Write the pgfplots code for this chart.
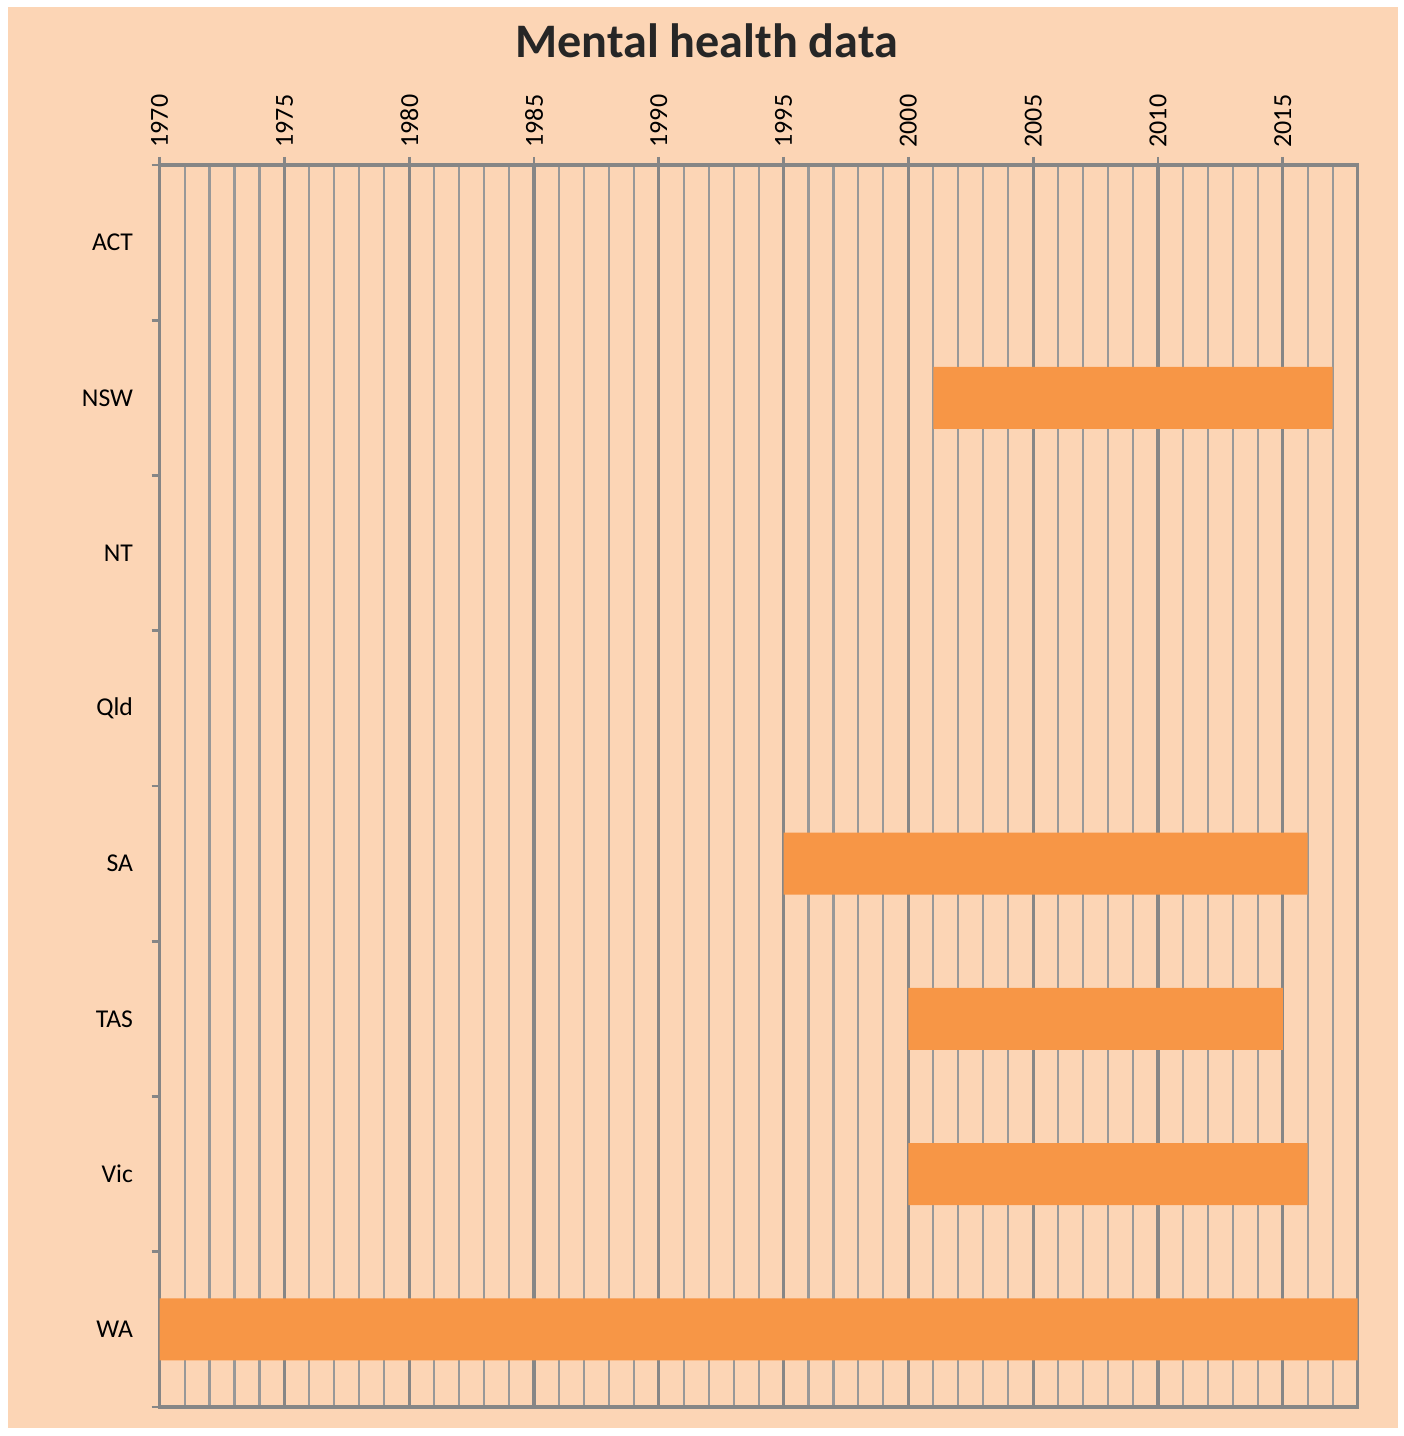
\documentclass[border=0pt]{standalone}
\usepackage{fontspec}
\setmainfont{Carlito}
\usepackage{pgfplots}
\pgfplotsset{compat=1.18}
\usepackage{pgfplotstable}
\definecolor{peach}{HTML}{FCD5B5}
\definecolor{barorange}{HTML}{F79646}
\definecolor{gridgray}{HTML}{868686}
\definecolor{minorgray}{HTML}{989898}

% state index, first year, years covered
\pgfplotstableread{
idx start span
0 0    0
1 2001 16
2 0    0
3 0    0
4 1995 21
5 2000 15
6 2000 16
7 1970 48
}\spans

\begin{document}
\begin{tikzpicture}
  % page: white edge, peach chart area
  \fill[white] (-1.59,-0.29) rectangle (12.44,14.07);
  \fill[peach] (-1.51,-0.21) rectangle (12.39,14.00);
  \begin{axis}[
    at={(0,0)}, anchor=south west,
    scale only axis,
    width=11.98cm, height=12.42cm,
    xbar stacked, bar width=0.62cm,
    xmin=1970, xmax=2018,
    ymin=-0.5, ymax=7.5,
    y dir=reverse,
    xtick={1970,1975,...,2015},
    xticklabels={1970,1975,1980,1985,1990,1995,2000,2005,2010,2015},
    minor xtick={1970,...,2018},
    ytick={0,...,7},
    yticklabels={ACT,NSW,NT,Qld,SA,TAS,Vic,WA},
    minor ytick={-0.5,0.5,...,7.5},
    xtick pos=right, xticklabel pos=right,
    ytick pos=left,
    tick align=outside,
    major tick length=0.08cm, minor tick length=0.08cm,
    major y tick style={draw=none},
    minor x tick style={draw=none},
    tick style={gridgray, line width=0.8pt},
    minor y tick style={gridgray, line width=0.8pt},
    xmajorgrids, xminorgrids,
    major x grid style={gridgray, line width=0.9pt},
    minor x grid style={minorgray, line width=0.6pt},
    axis line style={gridgray, line width=1pt},
    xticklabel style={font=\fontsize{7.4}{8}\selectfont, rotate=90, anchor=west, inner sep=2.5pt},
    yticklabel style={font=\fontsize{7.3}{8}\selectfont, inner sep=0pt, xshift=-0.18cm},
    title={\bfseries Mental health data},
    title style={font=\fontsize{13.7}{16}\selectfont, color=black!85, anchor=center, at={(0.5,1)}, xshift=-0.52cm, yshift=1.03cm},
  ]
    \addplot[draw=none, fill=none] table[x=start, y=idx] {\spans};
    \addplot[draw=none, fill=barorange] table[x=span, y=idx] {\spans};
  \end{axis}
\end{tikzpicture}
\end{document}
